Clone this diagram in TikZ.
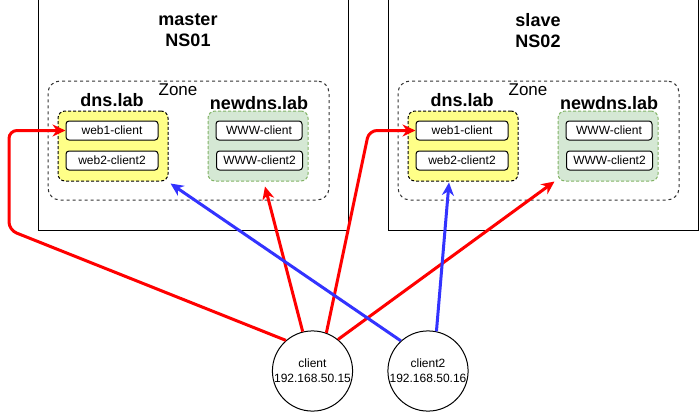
\documentclass[tikz,border=0pt]{standalone}
\usepackage{fontspec}
\setmainfont{Liberation Sans}
\usetikzlibrary{arrows.meta}
\definecolor{dnsyellow}{HTML}{FFFF88}
\definecolor{newdnsgreen}{HTML}{D5E8D4}
\definecolor{newdnsline}{HTML}{82B366}
\definecolor{arrowred}{HTML}{FF0000}
\definecolor{arrowblue}{HTML}{3333FF}

\begin{document}
\begin{tikzpicture}[x=1pt, y=-1pt,
    server/.style={draw, line width=1pt, minimum width=310pt, minimum height=230pt, inner sep=0pt},
    zonebox/.style={draw=black!80, line width=1pt, dash pattern=on 3pt off 3pt, rounded corners=12pt, minimum width=281pt, minimum height=119pt, inner sep=0pt},
    dnsbox/.style={draw, line width=1pt, dash pattern=on 3pt off 2pt, fill=dnsyellow, rounded corners=7pt, minimum width=110pt, minimum height=70pt, inner sep=0pt},
    newdnsbox/.style={draw=newdnsline, line width=1pt, dash pattern=on 3pt off 2pt, fill=newdnsgreen, rounded corners=7pt, minimum width=100pt, minimum height=70pt, inner sep=0pt},
    record/.style={draw, line width=1pt, fill=white, rounded corners=3pt, minimum height=19pt, inner sep=0pt, font=\fontsize{12}{14}\selectfont},
    title/.style={font=\bfseries\fontsize{18}{21}\selectfont, align=center},
    zonelabel/.style={font=\fontsize{17}{20}\selectfont},
    host/.style={draw, circle, line width=1pt, minimum size=80pt, inner sep=0pt, align=center, font=\fontsize{12}{15}\selectfont},
    redarrow/.style={draw=arrowred, line width=3pt, -{Stealth[length=13pt, width=12pt]}},
    bluearrow/.style={draw=arrowblue, line width=3pt, -{Stealth[length=13pt, width=12pt]}}]
    \useasboundingbox (0,0) rectangle (700,412);

    % master NS01
    \node[server] (master) at (193,115) {};
    \node[title] (mastertitle) at (188,30.5) {master\\NS01};
    \node[zonebox] (zone1) at (188.5,140.5) {};
    \node[zonelabel] (zonetext1) at (178,90) {Zone};
    \node[dnsbox] (dns1) at (113,146) {};
    \node[title] (dnstext1) at (112,100) {dns.lab};
    \node[record, minimum width=92pt] (web1a) at (112,130.5) {web1-client};
    \node[record, minimum width=92pt] (web2a) at (112,160.5) {web2-client2};
    \node[newdnsbox] (newdns1) at (258,146) {};
    \node[title] (newdnstext1) at (259,103) {newdns.lab};
    \node[record, minimum width=86pt] (www1a) at (259,130.5) {WWW-client};
    \node[record, minimum width=86pt] (www2a) at (259.5,160.5) {WWW-client2};

    % slave NS02
    \node[server] (slave) at (543,115) {};
    \node[title] (slavetitle) at (538,30.5) {slave\\NS02};
    \node[zonebox] (zone2) at (538.5,140.5) {};
    \node[zonelabel] (zonetext2) at (528,90) {Zone};
    \node[dnsbox] (dns2) at (463,146) {};
    \node[title] (dnstext2) at (462,100) {dns.lab};
    \node[record, minimum width=92pt] (web1b) at (462,130.5) {web1-client};
    \node[record, minimum width=92pt] (web2b) at (462,160.5) {web2-client2};
    \node[newdnsbox] (newdns2) at (608,146) {};
    \node[title] (newdnstext2) at (609,103) {newdns.lab};
    \node[record, minimum width=86pt] (www1b) at (609,130.5) {WWW-client};
    \node[record, minimum width=86pt] (www2b) at (609.5,160.5) {WWW-client2};

    % clients
    \node[host] (client) at (312.5,371) {client\\192.168.50.15};
    \node[host] (client2) at (428,371) {client2\\192.168.50.16};

    % arrows
    \draw[redarrow, rounded corners=8pt] (client.131) -- (9,230) -- (9,130.5) -- (web1a.west);
    \draw[redarrow] (client.104) -- ([shift={(7,5)}]newdns1.south);
    \draw[redarrow, rounded corners=8pt] (client.70) -- (369,130.5) -- (web1b.west);
    \draw[redarrow] (client.51) -- ([shift={(-3,0)}]newdns2.south west);
    \draw[bluearrow] (client2.132) -- ([shift={(2,2)}]dns1.south east);
    \draw[bluearrow] (client2.78) -- ([shift={(-14,1)}]dns2.south);
\end{tikzpicture}
\end{document}
